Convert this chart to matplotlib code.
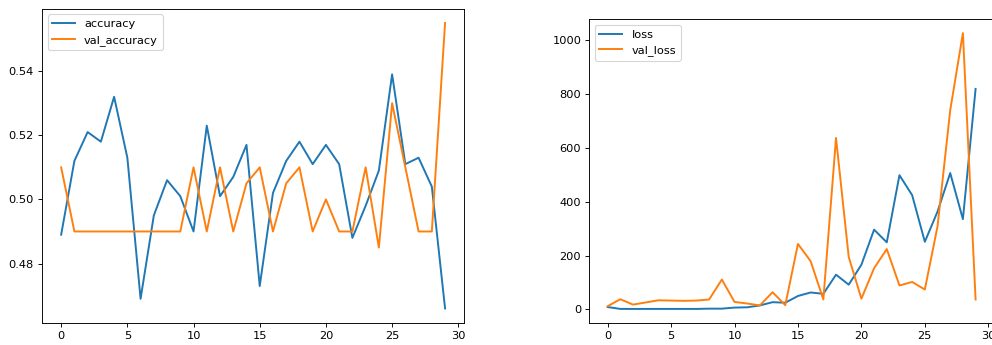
import matplotlib.pyplot as plt

# training history
epochs = list(range(30))

accuracy = [0.489, 0.512, 0.521, 0.518, 0.532, 0.513, 0.469, 0.495, 0.506, 0.501,
            0.490, 0.523, 0.501, 0.507, 0.517, 0.473, 0.502, 0.512, 0.518, 0.511,
            0.517, 0.511, 0.488, 0.498, 0.509, 0.539, 0.511, 0.513, 0.504, 0.466]
val_accuracy = [0.510, 0.490, 0.490, 0.490, 0.490, 0.490, 0.490, 0.490, 0.490, 0.490,
                0.510, 0.490, 0.510, 0.490, 0.505, 0.510, 0.490, 0.505, 0.510, 0.490,
                0.500, 0.490, 0.490, 0.510, 0.485, 0.530, 0.510, 0.490, 0.490, 0.555]

loss = [9, 2, 2, 2, 2, 2, 2, 2, 3, 3,
        7, 8, 15, 27, 25, 50, 63, 58, 129, 92,
        166, 296, 249, 498, 424, 251, 363, 506, 335, 818]
val_loss = [12, 38, 18, 26, 34, 33, 32, 33, 37, 111,
            28, 22, 15, 64, 16, 243, 179, 37, 636, 195,
            40, 153, 224, 89, 102, 74, 308, 739, 1025, 37]

# bigger figure at a lower dpi, so text comes out at the reference's size
dpi = 82
fig = plt.figure(figsize=(992 / dpi, 345 / dpi), dpi=dpi)

# left: accuracy
ax1 = fig.add_axes([0.0423, 0.0646, 0.4257, 0.910])
ax1.plot(epochs, accuracy, label='accuracy', linewidth=1.7)
ax1.plot(epochs, val_accuracy, label='val_accuracy', linewidth=1.7)
ax1.set_xticks([0, 5, 10, 15, 20, 25, 30])
ax1.set_yticks([0.48, 0.50, 0.52, 0.54])
ax1.legend(loc='upper left')

# right: loss
ax2 = fig.add_axes([0.594, 0.0646, 0.408, 0.8794])
ax2.plot(epochs, loss, label='loss', linewidth=1.7)
ax2.plot(epochs, val_loss, label='val_loss', linewidth=1.7)
ax2.set_xticks([0, 5, 10, 15, 20, 25, 30])
ax2.set_yticks([0, 200, 400, 600, 800, 1000])
ax2.legend(loc='upper left')

plt.savefig('out.png', dpi=dpi)
